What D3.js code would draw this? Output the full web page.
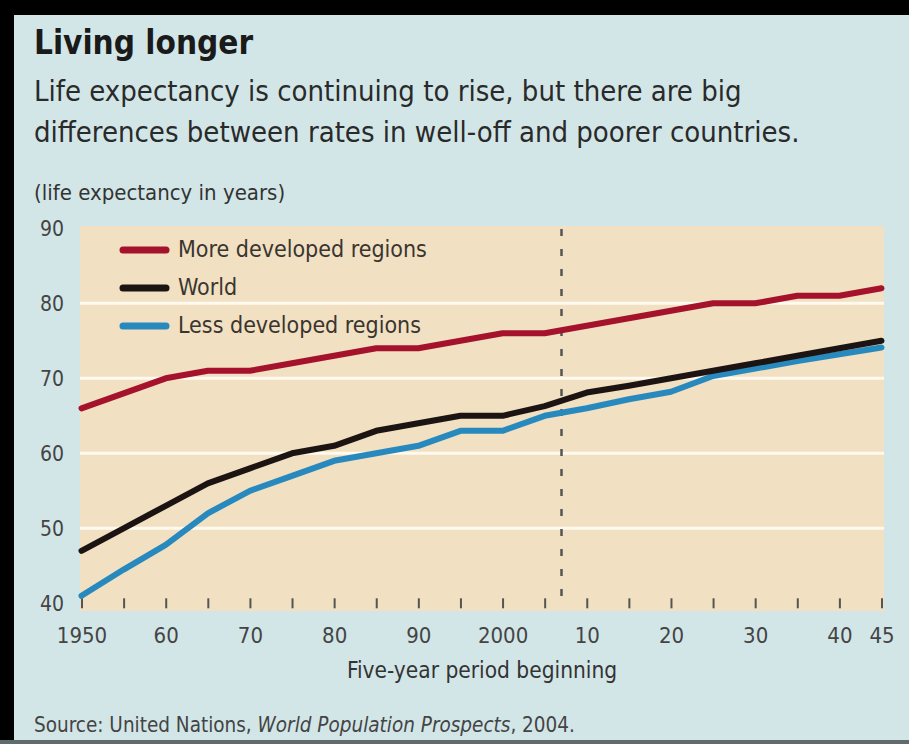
<!DOCTYPE html>
<html>
<head>
<meta charset="utf-8">
<script src="https://cdn.jsdelivr.net/npm/d3@7"></script>
<style>
  html, body { margin: 0; padding: 0; background: #d2e6e8; }
  svg { display: block; }
  text { font-family: "Liberation Sans Narrow", "DejaVu Sans Condensed", "Arial Narrow", sans-serif; }
</style>
</head>
<body>
<svg id="chart" width="909" height="744"></svg>
<script>
// ---- data ----
const years = [1950,1955,1960,1965,1970,1975,1980,1985,1990,1995,2000,2005,2010,2015,2020,2025,2030,2035,2040,2045];
const moreDeveloped = [66,68,70,71,71,72,73,74,74,75,76,76,77,78,79,80,80,81,81,82];
const world = [47,50,53,56,58,60,61,63,64,65,65,66.3,68.1,69,70,71,72,73,74,75];
const lessDeveloped = [41,44.5,47.8,52,55,57,59,60,61,63,63,65,66,67.2,68.2,70.3,71.3,72.3,73.2,74.1];
const seriesNames = ["More developed regions", "World", "Less developed regions"];
const yTicks = [40,50,60,70,80,90];
const xLabelYears = [1950,1960,1970,1980,1990,2000,2010,2020,2030,2040,2045];
const xLabels = ["1950","60","70","80","90","2000","10","20","30","40","45"];
const projectionYear = 2007;

const colors = ["#a5122c", "#1c1412", "#2789bd"];
const svg = d3.select("#chart");

// frame
svg.append("rect").attr("x",0).attr("y",0).attr("width",909).attr("height",744).attr("fill","#d2e6e8");
svg.append("rect").attr("x",0).attr("y",0).attr("width",909).attr("height",15).attr("fill","#000");
svg.append("rect").attr("x",0).attr("y",0).attr("width",14).attr("height",744).attr("fill","#000");
svg.append("rect").attr("x",0).attr("y",740).attr("width",909).attr("height",4).attr("fill","#5f6b6c");

// titles
svg.append("text").attr("x",34).attr("y",54).attr("font-size",33).attr("font-weight","bold").attr("fill","#1a1a1a").text("Living longer");
svg.append("text").attr("x",34).attr("y",101).attr("font-size",29).attr("fill","#2a2a2a").text("Life expectancy is continuing to rise, but there are big");
svg.append("text").attr("x",34).attr("y",142).attr("font-size",29).attr("fill","#2a2a2a").text("differences between rates in well-off and poorer countries.");
svg.append("text").attr("x",34).attr("y",200).attr("font-size",22).attr("fill","#333").text("(life expectancy in years)");

// scales
const x = d3.scaleLinear().domain([1950, 2045]).range([81.5, 881.5]);
const y = d3.scaleLinear().domain([40, 90]).range([603.3, 228.3]);

// plot background
svg.append("rect").attr("x",80).attr("y",226).attr("width",804).attr("height",385).attr("fill","#f1e0c1");

// gridlines
svg.append("g").selectAll("line").data(yTicks.filter(d => d > 40 && d < 90)).join("line")
  .attr("x1",80).attr("x2",884)
  .attr("y1",d => y(d)).attr("y2",d => y(d))
  .attr("stroke","#fffaf0").attr("stroke-width",3);

// y axis labels
const yAxis = d3.axisLeft(y).tickValues(yTicks).tickSize(0).tickPadding(0).tickFormat(d3.format("d"));
const gy = svg.append("g").attr("transform","translate(64,0)").call(yAxis);
gy.select(".domain").remove();
gy.selectAll("text").attr("font-size",21).attr("fill","#444").attr("font-family",null);

// x axis ticks (inside plot)
const xTickAxis = d3.axisBottom(x).tickValues(years).tickSize(10).tickFormat("");
const gxt = svg.append("g").attr("transform",`translate(0,${y(40)-5})`).call(xTickAxis);
gxt.select(".domain").remove();
gxt.selectAll("line").attr("stroke","#555").attr("stroke-width",2);

// x axis labels
const xLabAxis = d3.axisBottom(x).tickValues(xLabelYears).tickSize(0).tickPadding(0)
  .tickFormat((d,i) => xLabels[xLabelYears.indexOf(d)]);
const gx = svg.append("g").attr("transform","translate(0,627)").call(xLabAxis);
gx.select(".domain").remove();
gx.selectAll("text").attr("font-size",22).attr("fill","#444").attr("font-family",null);

// projection dashed line
svg.append("line").attr("x1",x(projectionYear)).attr("x2",x(projectionYear))
  .attr("y1",229).attr("y2",608)
  .attr("stroke","#555").attr("stroke-width",2.5).attr("stroke-dasharray","7,13");

// lines
const seriesData = [moreDeveloped, world, lessDeveloped];
const line = d3.line().x((d,i) => x(years[i])).y(d => y(d));
seriesData.slice().reverse().forEach((s, ri) => {
  const i = seriesData.length - 1 - ri;
  svg.append("path").datum(s).attr("d", line)
    .attr("fill","none").attr("stroke",colors[i]).attr("stroke-width",6)
    .attr("stroke-linejoin","round").attr("stroke-linecap","round");
});

// legend
const legY = [250, 288, 326];
const leg = svg.append("g");
seriesNames.forEach((n,i) => {
  leg.append("line").attr("x1",123).attr("x2",166).attr("y1",legY[i]).attr("y2",legY[i])
    .attr("stroke",colors[i]).attr("stroke-width",7).attr("stroke-linecap","round");
  leg.append("text").attr("x",178).attr("y",legY[i]+7).attr("font-size",23).attr("fill","#3a3530").text(n);
});

// axis title
svg.append("text").attr("x",482).attr("y",678).attr("text-anchor","middle").attr("font-size",22.5).attr("fill","#333").text("Five-year period beginning");

// source
const src = svg.append("text").attr("x",34).attr("y",732).attr("font-size",20.5).attr("fill","#444");
src.append("tspan").text("Source: United Nations, ");
src.append("tspan").attr("font-style","italic").text("World Population Prospects");
src.append("tspan").text(", 2004.");
</script>
</body>
</html>
